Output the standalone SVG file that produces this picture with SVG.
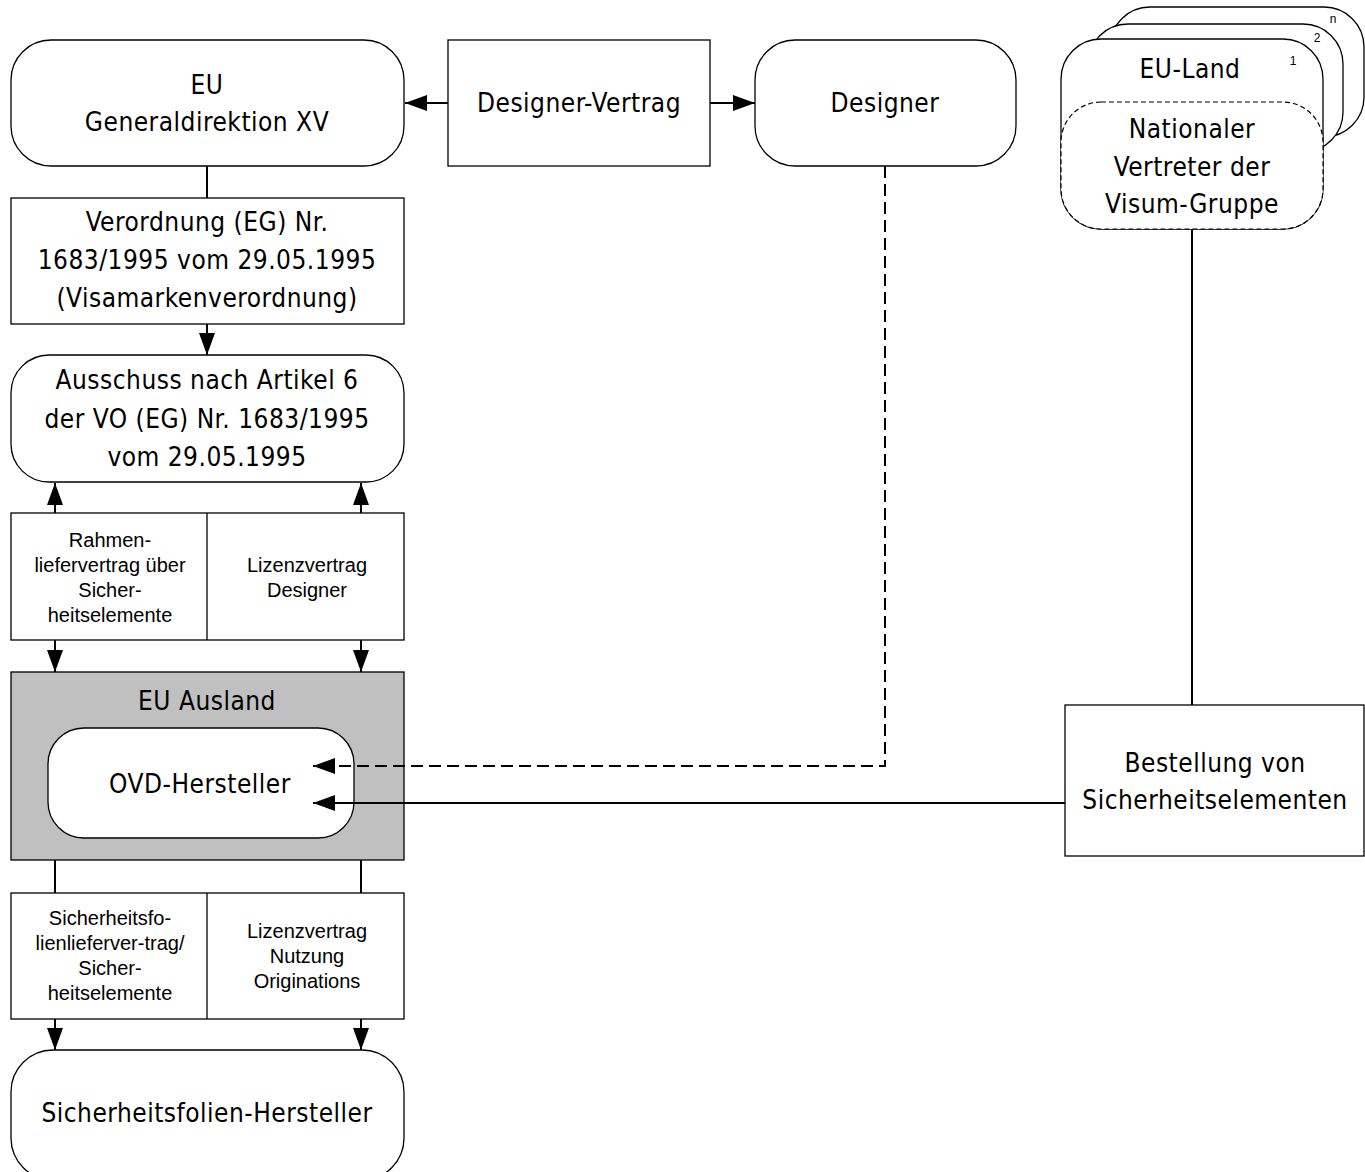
<svg xmlns="http://www.w3.org/2000/svg" width="1365" height="1172" viewBox="0 0 1365 1172">
<style>
.box{fill:#fff;stroke:#000;stroke-width:1.3}
.grey{fill:#c0c0c0;stroke:#000;stroke-width:1.3}
.dash{fill:#fff;stroke:#000;stroke-width:1.2;stroke-dasharray:5 3}
.t{font-family:"DejaVu Sans Condensed","DejaVu Sans",sans-serif;font-stretch:condensed;font-size:26px;letter-spacing:0.5px;text-anchor:middle;fill:#000}
.s{font-family:"Liberation Sans",Arial,sans-serif;font-size:20px;text-anchor:middle;fill:#000}
.n{font-family:"Liberation Sans",Arial,sans-serif;font-size:12px;text-anchor:middle;fill:#000}
.c{fill:none;stroke:#000;stroke-width:2}
.cd{fill:none;stroke:#000;stroke-width:2;stroke-dasharray:12 6}
</style>
<defs>
<marker id="ah" markerUnits="userSpaceOnUse" markerWidth="22" markerHeight="16" refX="22" refY="8" orient="auto" viewBox="0 0 22 16">
<path d="M0,0 L22,8 L0,16 z" fill="#000"/>
</marker>
</defs>

<g id="eu-gd">
<rect class="box" x="11" y="40" width="393" height="126" rx="40" ry="40"/>
<text class="t" x="207" y="94">EU</text>
<text class="t" x="207" y="131">Generaldirektion XV</text>
</g>

<g id="designer-vertrag">
<rect class="box" x="448" y="40" width="262" height="126"/>
<text class="t" x="579" y="112">Designer-Vertrag</text>
</g>

<g id="designer">
<rect class="box" x="755" y="40" width="261" height="126" rx="40" ry="40"/>
<text class="t" x="885" y="112">Designer</text>
</g>

<g id="verordnung">
<rect class="box" x="11" y="198" width="393" height="126"/>
<text class="t" x="207" y="231">Verordnung (EG) Nr.</text>
<text class="t" x="207" y="269">1683/1995 vom 29.05.1995</text>
<text class="t" x="207" y="307">(Visamarkenverordnung)</text>
</g>

<g id="ausschuss">
<rect class="box" x="11" y="355" width="393" height="127" rx="38" ry="38"/>
<text class="t" x="207" y="389">Ausschuss nach Artikel 6</text>
<text class="t" x="207" y="428">der VO (EG) Nr. 1683/1995</text>
<text class="t" x="207" y="466">vom 29.05.1995</text>
</g>

<g id="vertraege-1">
<rect class="box" x="11" y="513" width="393" height="127"/>
<line x1="207" y1="513" x2="207" y2="640" stroke="#000" stroke-width="1.3"/>
<text class="s" x="110" y="547">Rahmen-</text>
<text class="s" x="110" y="572">liefervertrag über</text>
<text class="s" x="110" y="597">Sicher-</text>
<text class="s" x="110" y="622">heitselemente</text>
<text class="s" x="307" y="572">Lizenzvertrag</text>
<text class="s" x="307" y="597">Designer</text>
</g>

<g id="eu-ausland">
<rect class="grey" x="11" y="672" width="393" height="188"/>
<text class="t" x="207" y="710">EU Ausland</text>
</g>

<g id="ovd-hersteller">
<rect class="box" x="48" y="728" width="306" height="110" rx="36" ry="36"/>
<text class="t" x="200" y="793">OVD-Hersteller</text>
</g>

<g id="vertraege-2">
<rect class="box" x="11" y="893" width="393" height="126"/>
<line x1="207" y1="893" x2="207" y2="1019" stroke="#000" stroke-width="1.3"/>
<text class="s" x="110" y="925">Sicherheitsfo-</text>
<text class="s" x="110" y="950">lienlieferver-trag/</text>
<text class="s" x="110" y="975">Sicher-</text>
<text class="s" x="110" y="1000">heitselemente</text>
<text class="s" x="307" y="938">Lizenzvertrag</text>
<text class="s" x="307" y="963">Nutzung</text>
<text class="s" x="307" y="988">Originations</text>
</g>

<g id="sicherheitsfolien-hersteller">
<rect class="box" x="11" y="1050" width="393" height="130" rx="42" ry="42"/>
<text class="t" x="207" y="1122">Sicherheitsfolien-Hersteller</text>
</g>

<g id="eu-land">
<rect class="box" x="1110" y="7" width="254" height="130" rx="40" ry="40"/>
<text class="n" x="1333" y="23">n</text>
<rect class="box" x="1088" y="24" width="255" height="128" rx="40" ry="40"/>
<text class="n" x="1317" y="42">2</text>
<rect class="box" x="1061" y="39" width="262" height="190" rx="40" ry="40"/>
<text class="n" x="1293" y="65">1</text>
<text class="t" x="1190" y="78">EU-Land</text>
<rect class="dash" x="1061" y="102" width="262" height="127" rx="40" ry="40"/>
<text class="t" x="1192" y="138">Nationaler</text>
<text class="t" x="1192" y="176">Vertreter der</text>
<text class="t" x="1192" y="213">Visum-Gruppe</text>
</g>

<g id="bestellung">
<rect class="box" x="1065" y="705" width="299" height="151"/>
<text class="t" x="1215" y="772">Bestellung von</text>
<text class="t" x="1215" y="809">Sicherheitselementen</text>
</g>

<g id="connectors">
<line class="c" x1="448" y1="103" x2="405" y2="103" marker-end="url(#ah)"/>
<line class="c" x1="710" y1="103" x2="755" y2="103" marker-end="url(#ah)"/>
<line class="c" x1="207" y1="166" x2="207" y2="198"/>
<line class="c" x1="207" y1="324" x2="207" y2="355" marker-end="url(#ah)"/>
<line class="c" x1="55" y1="513" x2="55" y2="483" marker-end="url(#ah)"/>
<line class="c" x1="361" y1="513" x2="361" y2="483" marker-end="url(#ah)"/>
<line class="c" x1="55" y1="640" x2="55" y2="672" marker-end="url(#ah)"/>
<line class="c" x1="361" y1="640" x2="361" y2="672" marker-end="url(#ah)"/>
<line class="c" x1="55" y1="860" x2="55" y2="893"/>
<line class="c" x1="361" y1="860" x2="361" y2="893"/>
<line class="c" x1="55" y1="1019" x2="55" y2="1050" marker-end="url(#ah)"/>
<line class="c" x1="361" y1="1019" x2="361" y2="1050" marker-end="url(#ah)"/>
<path class="cd" d="M885,166 V766 H313" marker-end="url(#ah)"/>
<line class="c" x1="1192" y1="229" x2="1192" y2="705"/>
<line class="c" x1="1065" y1="803" x2="313" y2="803" marker-end="url(#ah)"/>
</g>
</svg>
